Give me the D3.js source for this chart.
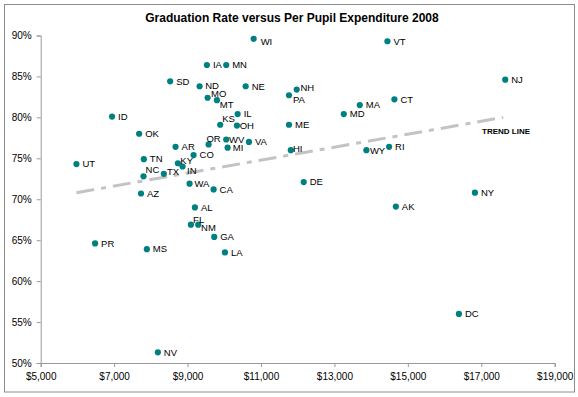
<!DOCTYPE html>
<html>
<head>
<meta charset="utf-8">
<script src="https://cdn.jsdelivr.net/npm/d3@7"></script>
<style>
  html, body { margin: 0; padding: 0; background: #fff; }
  svg { display: block; font-family: "Liberation Sans", Arial, sans-serif; }
</style>
</head>
<body>
<svg id="chart" width="578" height="397"></svg>
<script>
// ---- Data ----
const states = ["WI","IA","MN","SD","ND","NE","MO","MT","PA","NH","ID","IL","KS","OH","ME","OK","OR","WV","VA","AR","MI","HI","CO","TN","UT","KY","IN","NC","TX","WA","CA","AZ","VT","NJ","CT","MA","MD","WY","RI","DE","NY","AL","FL","NM","GA","PR","MS","LA","NV","AK","DC"];
const spending = [10800,9527,10053,8526,9328,10582,9546,9800,11763,11973,6944,10364,9890,10345,11763,7681,9573,10053,10672,8673,10091,11812,9164,7809,5973,8736,8864,7800,8354,9055,9709,7732,14444,17653,14634,13691,13255,13871,14490,12164,16827,9200,9091,9290,9726,6481,7891,10018,8191,14673,16391];
const gradRate = [89.6,86.4,86.4,84.4,83.8,83.8,82.4,82.1,82.7,83.4,80.1,80.4,79.1,79.0,79.1,78.0,76.7,77.3,77.0,76.4,76.3,76.0,75.4,74.9,74.3,74.4,74.0,72.8,73.1,71.9,71.2,70.7,89.3,84.6,82.2,81.5,80.4,76.0,76.4,72.1,70.8,69.0,66.9,66.9,65.4,64.6,63.9,63.5,51.3,69.1,56.0];
const xTicks = [5000,7000,9000,11000,13000,15000,17000,19000];
const yTicks = [50,55,60,65,70,75,80,85,90];
const trendSpend = [5973, 17600];
const trendRate = [70.8, 80.0];
const title = "Graduation Rate versus Per Pupil Expenditure 2008";
const trendLabel = "TREND LINE";

// label placement nudges (style, not data)
const nudge = {
  WI:[1,3.4], ND:[-0.4,-0.7], MO:[-2.5,-3.7], MT:[-3.2,4.7], PA:[-2,4.3], NH:[-2.2,-1.5],
  KS:[-4.1,-5.7], OH:[-3.2,0], OR:[-8.2,-6], WV:[-3.1,0], HI:[-3.9,-1.5], KY:[-3.5,-2.7],
  IN:[-1.5,4], NC:[-3.9,-6.7], TX:[-2.8,-1.7], WA:[-1.2,0], FL:[-3.8,-4.7], NM:[-3.1,3],
  WY:[-2.5,0.7], MI:[-0.8,0]
};

const svg = d3.select("#chart");

// chart border
svg.append("rect").attr("x",4.5).attr("y",4.5).attr("width",570).attr("height",387.5)
  .attr("fill","#fff").attr("stroke","#8c8c8c").attr("stroke-width",1);

const x = d3.scaleLinear().domain([5000,19000]).range([40.7,554.7]);
const y = d3.scaleLinear().domain([50,90]).range([363,35.5]);

// title
svg.append("text").attr("x",292).attr("y",21.5).attr("text-anchor","middle")
  .attr("font-size",12).attr("font-weight","bold").attr("fill","#000").text(title);

// axes
const xAxis = d3.axisBottom(x).tickValues(xTicks).tickSize(4).tickPadding(6)
  .tickFormat(d => "$" + d3.format(",")(d));
const yAxis = d3.axisLeft(y).tickValues(yTicks).tickSize(4).tickPadding(5)
  .tickFormat(d => d + "%");

const gx = svg.append("g").attr("transform","translate(0,363)").call(xAxis);
const gy = svg.append("g").attr("transform","translate(40.7,0)").call(yAxis);
[gx, gy].forEach(g => {
  g.select(".domain").attr("stroke","#9a9a9a");
  g.selectAll(".tick line").attr("stroke","#9a9a9a");
  g.selectAll(".tick text").attr("font-size",10).attr("fill","#000")
    .attr("font-family","'Liberation Sans', Arial, sans-serif");
});

// trend line
const line = d3.line().x(d => x(d[0])).y(d => y(d[1]));
svg.append("path").datum(d3.zip(trendSpend, trendRate))
  .attr("d", line).attr("fill","none").attr("stroke","#c3c3c3")
  .attr("stroke-width",3).attr("stroke-dasharray","18,7,5,7");

svg.append("text").attr("x",482).attr("y",134).attr("font-size",8)
  .attr("font-weight","bold").attr("fill","#000").text(trendLabel);

// points
const pts = d3.zip(states, spending, gradRate);
svg.append("g").selectAll("circle").data(pts).join("circle")
  .attr("cx", d => x(d[1])).attr("cy", d => y(d[2])).attr("r",3.1)
  .attr("fill","#008080");

svg.append("g").selectAll("text").data(pts).join("text")
  .attr("x", d => x(d[1]) + 6 + (nudge[d[0]] ? nudge[d[0]][0] : 0))
  .attr("y", d => y(d[2]) + 3.3 + (nudge[d[0]] ? nudge[d[0]][1] : 0))
  .attr("font-size",9.5).attr("fill","#000").text(d => d[0]);
</script>
</body>
</html>
